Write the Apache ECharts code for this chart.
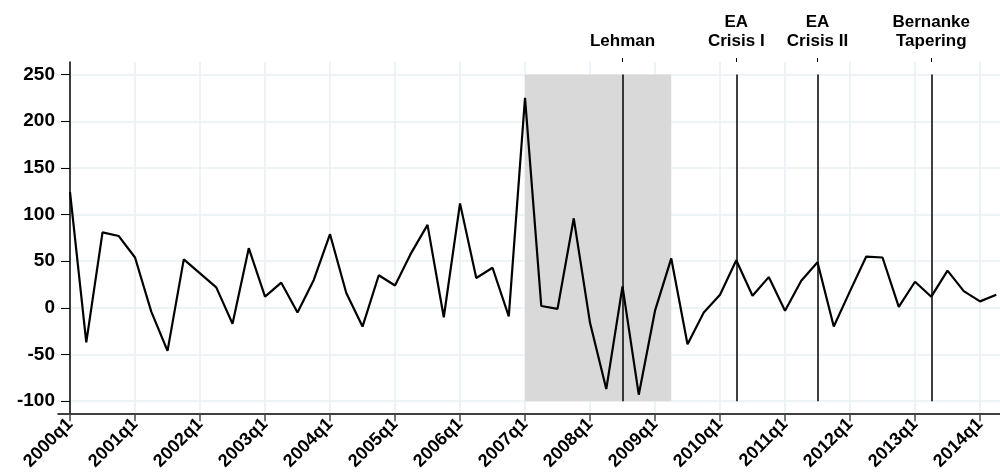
<!DOCTYPE html>
<html>
<head>
<meta charset="utf-8">
<script src="https://cdn.jsdelivr.net/npm/echarts@6/dist/echarts.min.js"></script>
<style>
  html, body { margin: 0; padding: 0; background: #fff; }
  #chart { width: 1000px; height: 473px; }
</style>
</head>
<body>
<div id="chart"></div>
<script>
// quarterly values, 2000q1 .. 2014q2
const values = [
  124, -37, 81, 77, 54, -4, -46, 52,
  37, 22, -17, 64, 12, 27, -5, 30,
  79, 16, -20, 35, 24, 59, 89, -10,
  112, 32, 43, -9, 225, 2, -1, 96,
  -16, -87, 23, -93, -3, 53, -39, -5,
  14, 51, 13, 33, -3, 29, 49, -20,
  18, 55, 54, 1, 28, 12, 40, 18,
  7, 14
]
const startYear = 2000
const quarterLabels = values.map((v, i) => (startYear + Math.floor(i / 4)) + 'q' + (i % 4 + 1))

// year ticks (index of each q1)
const yearTicks = [0, 4, 8, 12, 16, 20, 24, 28, 32, 36, 40, 44, 48, 52, 56]
const yTicks = [-100, -50, 0, 50, 100, 150, 200, 250]

// events
const eventIdx = [34, 41, 46, 53]
const eventNames = ['Lehman', 'EA\nCrisis I', 'EA\nCrisis II', 'Bernanke\nTapering']

// shaded period 2007q1 - 2009q2
const shadeFrom = 28
const shadeTo = 37

const chart = echarts.init(document.getElementById('chart'))

const font = 'Liberation Sans, Arial, sans-serif'

const option = {
  backgroundColor: '#fff',
  animation: false,
  grid: { left: 58, right: 0, top: 62, bottom: 59 },
  xAxis: [
    {
      type: 'value',
      min: -0.74,
      max: 57.23,
      axisLine: { show: true, onZero: false, lineStyle: { color: '#000', width: 1.5 } },
      axisTick: { show: true, length: 8, customValues: yearTicks, lineStyle: { color: '#444', width: 1.5 } },
      axisLabel: {
        customValues: yearTicks,
        formatter: v => quarterLabels[Math.round(v)] || '',
        rotate: 45,
        margin: 8,
        color: '#000',
        fontSize: 18,
        fontWeight: 'bold',
        fontFamily: font
      },
      splitLine: { show: true, lineStyle: { color: '#e8f1f2', width: 1.5 } }
    },
    {
      type: 'value',
      position: 'top',
      min: -0.74,
      max: 57.23,
      axisLine: { show: true, onZero: false, lineStyle: { color: '#fff', opacity: 0 } },
      axisTick: { show: true, length: 4, customValues: eventIdx, lineStyle: { color: '#000', width: 1 } },
      axisLabel: {
        customValues: eventIdx,
        formatter: v => eventNames[eventIdx.indexOf(Math.round(v))] || '',
        margin: 11,
        color: '#000',
        fontSize: 17,
        fontWeight: 'bold',
        lineHeight: 19,
        fontFamily: font
      },
      splitLine: { show: false }
    }
  ],
  yAxis: {
    type: 'value',
    min: -113,
    max: 263.5,
    axisLine: { show: true, lineStyle: { color: '#000', width: 1.5 } },
    axisTick: { show: true, length: 9, customValues: yTicks, lineStyle: { color: '#000', width: 1 } },
    axisLabel: {
      customValues: yTicks,
      margin: 3,
      color: '#000',
      fontSize: 19,
      fontWeight: 'bold',
      fontFamily: font
    },
    splitLine: { show: true, lineStyle: { color: '#e8f1f2', width: 1.5 } }
  },
  series: [
    {
      type: 'line',
      data: values.map((v, i) => [i, v]),
      showSymbol: false,
      lineStyle: { color: '#000', width: 2.2 },
      z: 5,
      markArea: {
        silent: true,
        itemStyle: { color: '#d9d9d9' },
        data: [[{ coord: [shadeFrom, -100] }, { coord: [shadeTo, 250] }]]
      },
      markLine: {
        silent: true,
        symbol: 'none',
        label: { show: false },
        lineStyle: { color: '#000', width: 1.5, type: 'solid' },
        data: eventIdx.map(x => [{ coord: [x, -100] }, { coord: [x, 250] }])
      }
    }
  ]
}

chart.setOption(option)
</script>
</body>
</html>
